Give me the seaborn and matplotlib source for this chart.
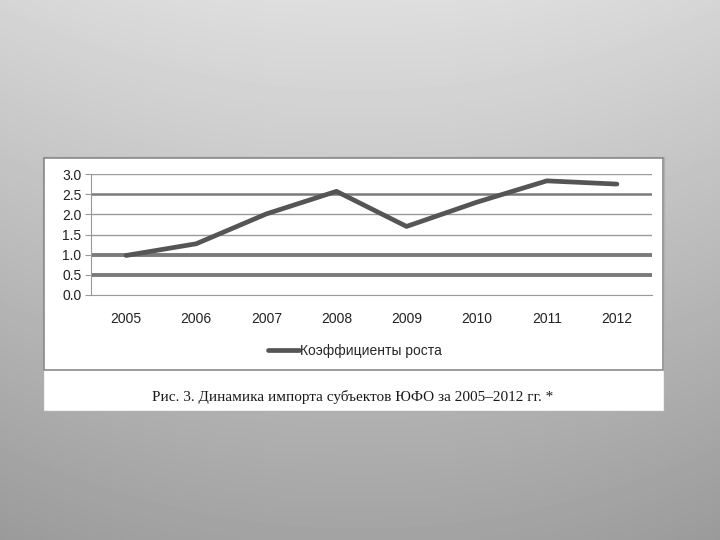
import numpy as np
import pandas as pd
import matplotlib
matplotlib.use('Agg')
import matplotlib.pyplot as plt
import seaborn as sns
from matplotlib.patches import Rectangle

years = ['2005', '2006', '2007', '2008', '2009', '2010', '2011', '2012']
growth = [0.98, 1.27, 2.01, 2.57, 1.70, 2.30, 2.83, 2.75]
yticks = [0.0, 0.5, 1.0, 1.5, 2.0, 2.5, 3.0]
series_name = 'Коэффициенты роста'
caption = 'Рис. 3. Динамика импорта субъектов ЮФО за 2005\u20132012 гг. *'

df = pd.DataFrame({'year': years, 'value': growth})

sns.set_theme(style='white')
plt.rcParams['font.family'] = ['Liberation Sans', 'DejaVu Sans']

W, H = 720, 540
fig = plt.figure(figsize=(7.2, 5.4), dpi=100)

# slide background: light top, darker bottom, slight vignette
bg = fig.add_axes([0, 0, 1, 1])
bg.set_zorder(-2)
yy, xx = np.mgrid[0:1:270j, 0:1:360j]
shade = 0.87 - 0.23 * yy - 0.035 * ((xx - 0.5) * 2) ** 2
bg.imshow(shade, cmap='gray', vmin=0, vmax=1, aspect='auto', extent=[0, 1, 0, 1])
bg.set_axis_off()

def fx(px):
    return px / W

def fy(py):
    return 1 - py / H

# white picture box with thin gray frame around chart part
fig.patches.append(Rectangle((fx(43), fy(411)), fx(664 - 43), (411 - 157) / H,
                             transform=fig.transFigure, facecolor='white',
                             edgecolor='#b0b0b0', linewidth=1, zorder=-1))
fig.patches.append(Rectangle((fx(44), fy(370)), fx(663 - 44), (370 - 158) / H,
                             transform=fig.transFigure, facecolor='white',
                             edgecolor='#8a8a8a', linewidth=1.2, zorder=-1))

ax = fig.add_axes([fx(91), fy(295), fx(652 - 91), (295 - 174) / H])
ax.set_zorder(1)
ax.set_facecolor('none')
sns.lineplot(data=df, x='year', y='value', ax=ax, color='#555555', linewidth=3.4,
             label=series_name, legend=False, sort=False)

ax.set_xlim(-0.5, len(years) - 0.5)
ax.set_ylim(0, 3.0)
ax.set_yticks(yticks)
ax.set_yticklabels([f'{v:.1f}' for v in yticks])
ax.set_xticks(range(len(years)))
ax.set_xticklabels(years)
ax.set_xticks(np.arange(-0.5, len(years), 1.0), minor=True)
ax.tick_params(axis='x', which='major', length=0, pad=12, labelsize=10, colors='#222222')
ax.tick_params(axis='x', which='minor', length=4, width=0.8, color='#999999', direction='out')
ax.tick_params(axis='y', length=4, width=0.8, color='#999999', pad=3, labelsize=10,
               colors='#222222', left=True)
ax.set_xlabel('')
ax.set_ylabel('')

ax.yaxis.grid(True)
widths = {0.0: 0.8, 0.5: 2.8, 1.0: 2.8, 1.5: 1.0, 2.0: 1.0, 2.5: 1.8, 3.0: 1.0}
for val, gl in zip(yticks, ax.get_ygridlines()):
    gl.set_color('#7a7a7a' if widths[val] > 1.5 else '#9a9a9a')
    gl.set_linewidth(widths[val])
ax.set_axisbelow(True)

for side in ['top', 'right']:
    ax.spines[side].set_visible(False)
ax.spines['left'].set_color('#999999')
ax.spines['left'].set_linewidth(0.8)
ax.spines['bottom'].set_color('#999999')
ax.spines['bottom'].set_linewidth(0.8)

leg = fig.legend(handles=ax.get_lines()[:1], labels=[series_name], loc='center',
                 bbox_to_anchor=(fx(355), fy(351)), frameon=False, fontsize=10,
                 handlelength=2.2, handletextpad=0.1, borderpad=0)
leg.set_zorder(2)

fig.text(fx(353), fy(397), caption, ha='center', va='center', fontsize=11,
         family=['Liberation Serif', 'DejaVu Serif'], color='#1a1a1a', zorder=2)

fig.savefig('out.png', dpi=100)
